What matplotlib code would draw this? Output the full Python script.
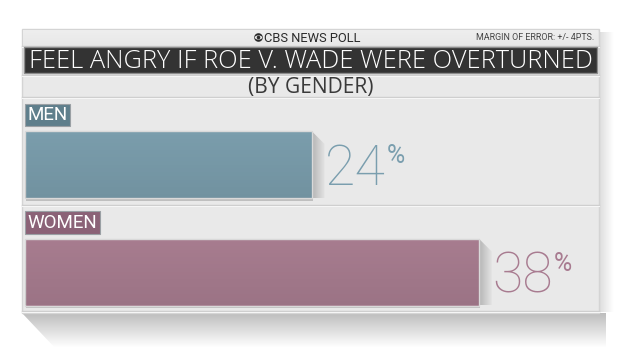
import numpy as np
import matplotlib
matplotlib.use('Agg')
import matplotlib.pyplot as plt
from matplotlib.patches import Rectangle, Polygon, Circle, Ellipse
from matplotlib.colors import to_rgba

plt.rcParams['font.family'] = ['Roboto', 'DejaVu Sans']

# data
groups = ['MEN', 'WOMEN']
values = [24, 38]
bar_colors = ['#7a9dac', '#a77c8f']
tag_colors = ['#5f7f8c', '#8b6277']
value_colors = ['#7a9eae', '#a87b90']
title = 'FEEL ANGRY IF ROE V. WADE WERE OVERTURNED'
subtitle = '(BY GENDER)'
source = 'CBS NEWS POLL'
moe = 'MARGIN OF ERROR: +/- 4PTS.'

PX = 11.94  # pixels per percentage point
X0 = 25     # pixel where the bars start


def gradient(ax, x0, x1, y0, y1, c0, c1, vertical=True, clip=None, z=1):
    # linear gradient drawn with imshow, y0 is the top edge (axes y inverted)
    t = np.linspace(0, 1, 64)[:, None]
    a = np.array(to_rgba(c0))
    b = np.array(to_rgba(c1))
    cols = a + (b - a) * t
    img = cols[:, None, :] if vertical else cols[None, :, :]
    im = ax.imshow(img, extent=(x0, x1, y1, y0), origin='upper', aspect='auto',
                   interpolation='bilinear', zorder=z)
    if clip is not None:
        im.set_clip_path(clip)
    return im


def fit_width(txt, width_px):
    # scale font size so the text is width_px wide
    fig.canvas.draw()
    w = txt.get_window_extent().width
    txt.set_fontsize(txt.get_fontsize() * width_px / w)


fig = plt.figure(figsize=(6.2, 3.49), dpi=100)
fig.patch.set_facecolor('white')

# background / frame in pixel coordinates
bg = fig.add_axes([0, 0, 1, 1])
bg.axis('off')
bg.set_xlim(0, 620)
bg.set_ylim(349, 0)

# drop shadows
gradient(bg, 599, 614, 32, 312, (0, 0, 0, 0.14), (0, 0, 0, 0), vertical=False, z=0)
shadow = Polygon([(22, 313), (606, 313), (606, 348), (55, 348)], closed=True,
                 fc='none', ec='none')
bg.add_patch(shadow)
gradient(bg, 22, 606, 313, 348, (0, 0, 0, 0.26), (0, 0, 0, 0), clip=shadow, z=0)

# panel
bg.add_patch(Rectangle((22, 29), 577, 284, fc='#e9e9e9', ec='#d4d4d4', lw=1, zorder=1))
gradient(bg, 23, 598, 30, 46, '#eeeeee', '#e8e8e8', z=1.1)
for yy in [46, 75, 97, 205, 311]:
    bg.plot([22, 599], [yy, yy], color='#cdcdcd', lw=1, zorder=1.2)
    bg.plot([22, 599], [yy + 1, yy + 1], color='#f6f6f6', lw=0.8, zorder=1.2)

# title bar
bg.add_patch(Rectangle((24, 47), 573, 26, fc='#333333', ec='#8c8c8c', lw=1, zorder=2))
t_title = bg.text(311, 61, title, color='white', fontsize=16, family='Open Sans',
                  fontweight='light', ha='center', va='center', zorder=3)
t_sub = bg.text(311, 87, subtitle, color='#3a3a3a', fontsize=13, family='Open Sans',
                ha='center', va='center', zorder=3)

# CBS header
bg.add_patch(Circle((258.5, 37.5), 4.3, fc='#2a2a2a', ec='none', zorder=3))
bg.add_patch(Ellipse((258.5, 37.5), 7.4, 4.2, fc='#eeeeee', ec='none', zorder=3))
bg.add_patch(Circle((258.5, 37.5), 1.8, fc='#2a2a2a', ec='none', zorder=3))
bg.text(263.5, 38, source, color='#2a2a2a', fontsize=9.3, ha='left', va='center', zorder=3)
bg.text(594, 37.5, moe, color='#444444', fontsize=6.4, ha='right', va='center', zorder=3)

# group tags
tag_y = [115, 222.5]
for g, c, ty in zip(groups, tag_colors, tag_y):
    bg.text(27.5, ty, g, color='white', fontsize=13.5, ha='left', va='center', zorder=3,
            bbox=dict(boxstyle='square,pad=0.13', fc=c, ec='#9aa0a4', lw=0.8))

# bars in percentage units
ax = fig.add_axes([0, 0, 1, 1])
ax.patch.set_alpha(0)
ax.axis('off')
ax.set_xlim(-X0 / PX, (620 - X0) / PX)
ax.set_ylim(349, 0)
bar_y = [164.5, 272]
bar_h = 67
bars = ax.barh(bar_y, values, height=bar_h, color=bar_colors, edgecolor='#d9d9d9',
               lw=1, zorder=3)

for b, v, y, vc in zip(bars, values, bar_y, value_colors):
    top = y - bar_h / 2
    bot = y + bar_h / 2
    # shading on the bar
    gradient(ax, 0, v, top, bot, (0, 0, 0, 0), (0, 0, 0, 0.07), clip=b, z=3.5)
    # shadow under the bar
    ax.add_patch(Rectangle((0.1, bot - 1), v, 3.5, fc='#8c8c8c', ec='none', alpha=0.45, zorder=2.5))
    # bevel at the end of the bar
    d = 13 / PX
    bev = Polygon([(v, top), (v + d, top + 13), (v + d, bot), (v, bot)], closed=True,
                  fc='none', ec='none')
    ax.add_patch(bev)
    gradient(ax, v, v + d, top, bot, '#b4b4b4', '#e4e4e4', vertical=False, clip=bev, z=2.8)
    # value label
    num = ax.text(v + 13.5 / PX, y + 20.5, str(v), color=vc, fontsize=40, fontweight='light',
                  ha='left', va='baseline', zorder=4)
    ax.annotate('%', xy=(1, 1), xycoords=num, xytext=(1, -1), textcoords='offset points',
                color=vc, fontsize=18, ha='left', va='top', zorder=4)

fit_width(t_title, 562)
fit_width(t_sub, 125)

fig.savefig('out.png', dpi=100, facecolor='white')
